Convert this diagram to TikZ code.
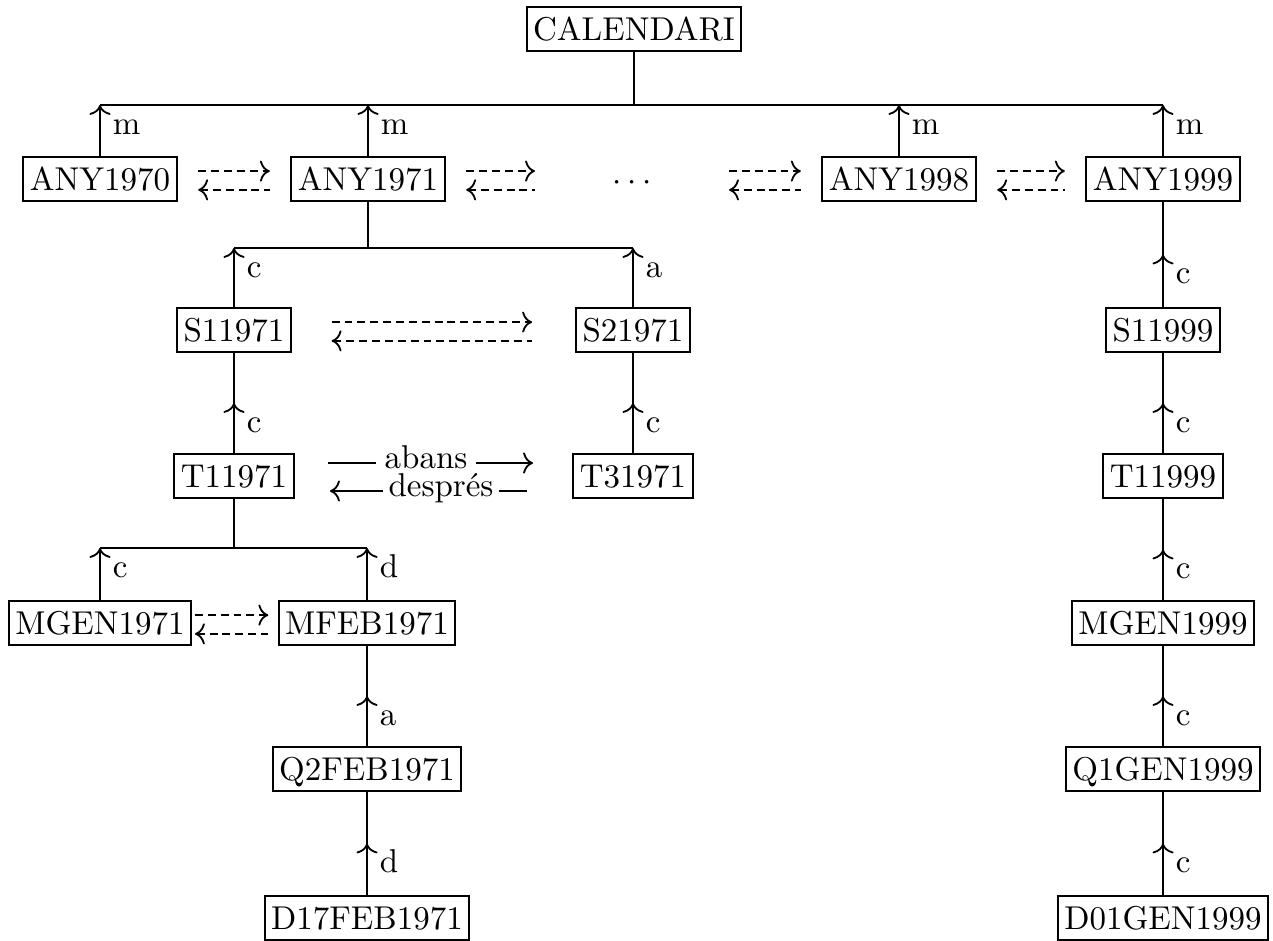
\documentclass[tikz,border=0pt]{standalone}
\usepackage{fontspec}
\usetikzlibrary{arrows.meta,decorations.markings}
\begin{document}
\begin{tikzpicture}[x=0.303pt,y=-0.303pt,
  line width=0.55pt,
  >={To[length=3pt,width=6.4pt]},
  box/.style={draw, line width=0.6pt, inner xsep=2pt, inner ysep=3.1pt,
    text height=6.9pt, text depth=0pt},
  lbl/.style={anchor=base west, inner sep=0pt, xshift=3.6pt, yshift=-8.8pt},
  bar/.style={line width=0.8pt},
  midup/.style={postaction={decorate},
    decoration={markings, mark=at position 0.5 with {\arrow{>}}}},
  dashedarrow/.style={dash pattern=on 2.4pt off 1.5pt},
  legend/.style={anchor=base, inner ysep=0pt, text depth=0pt}
]
\useasboundingbox (0,0) rectangle (1273,941);

% calendar hierarchy
\node[box] (cal) at (634,29) {CALENDARI};

\node[box] (a70) at (100,179) {ANY1970};
\node[box] (a71) at (368,179) {ANY1971};
\node[box, draw=none, minimum width=45.8pt] (dots) at (632,179) {$\cdots$};
\node[box] (a98) at (899,179) {ANY1998};
\node[box] (a99) at (1163,179) {ANY1999};

\node[box] (s11) at (234,330) {S11971};
\node[box] (s21) at (633,330) {S21971};
\node[box] (s99) at (1163,330) {S11999};

\node[box] (t11) at (234,476) {T11971};
\node[box] (t31) at (633,476) {T31971};
\node[box] (t99) at (1163,476) {T11999};

\node[box] (mgen71) at (100,623) {MGEN1971};
\node[box] (mfeb71) at (367,623) {MFEB1971};
\node[box] (mgen99) at (1163,623) {MGEN1999};

\node[box] (q2) at (367,769) {Q2FEB1971};
\node[box] (q1) at (1163,769) {Q1GEN1999};

\node[box] (d17) at (367,918) {D17FEB1971};
\node[box] (d01) at (1163,918) {D01GEN1999};

% heights of the horizontal bars
\coordinate (r1) at (0,105);
\coordinate (r2) at (0,248);
\coordinate (r3) at (0,548);

% years under the calendar
\draw[bar] (a70 |- r1) -- (a99 |- r1);
\draw (cal) -- (cal |- r1);
\foreach \n in {a70,a71,a98,a99}
  \draw[->] (\n) -- node[lbl,pos=1] {m} (\n |- r1);

% semesters of 1971
\draw[bar] (s11 |- r2) -- (s21 |- r2);
\draw (a71) -- (a71 |- r2);
\draw[->] (s11) -- node[lbl,pos=1] {c} (s11 |- r2);
\draw[->] (s21) -- node[lbl,pos=1] {a} (s21 |- r2);

% terms
\draw[midup] (t11) -- node[lbl] {c} (s11);
\draw[midup] (t31) -- node[lbl] {c} (s21);

% months of T11971
\draw[bar] (mgen71 |- r3) -- (mfeb71 |- r3);
\draw (t11) -- (t11 |- r3);
\draw[->] (mgen71) -- node[lbl,pos=1] {c} (mgen71 |- r3);
\draw[->] (mfeb71) -- node[lbl,pos=1] {d} (mfeb71 |- r3);

% fortnight and day of February 1971
\draw[midup] (q2) -- node[lbl] {a} (mfeb71);
\draw[midup] (d17) -- node[lbl] {d} (q2);

% chain of 1999
\draw[midup] (s99) -- node[lbl] {c} (a99);
\draw[midup] (t99) -- node[lbl] {c} (s99);
\draw[midup] (mgen99) -- node[lbl] {c} (t99);
\draw[midup] (q1) -- node[lbl] {c} (mgen99);
\draw[midup] (d01) -- node[lbl] {c} (q1);

% before / after links between siblings
\foreach \l/\r in {a70/a71,a71/dots,dots/a98,a98/a99}{
  \draw[dashedarrow,->,shorten <=6.2pt,shorten >=6.2pt]
    ([yshift=2.4pt]\l.east) -- ([yshift=2.4pt]\r.west);
  \draw[dashedarrow,<-,shorten <=6.2pt,shorten >=6.2pt]
    ([yshift=-3.3pt]\l.east) -- ([yshift=-3.3pt]\r.west);
}
\draw[dashedarrow,->,shorten <=12pt,shorten >=13pt]
  ([yshift=2.4pt]s11.east) -- ([yshift=2.4pt]s21.west);
\draw[dashedarrow,<-,shorten <=12pt,shorten >=13pt]
  ([yshift=-3.3pt]s11.east) -- ([yshift=-3.3pt]s21.west);
\draw[dashedarrow,->,shorten <=0.8pt,shorten >=2.8pt]
  ([yshift=2.4pt]mgen71.east) -- ([yshift=2.4pt]mfeb71.west);
\draw[dashedarrow,<-,shorten <=0.8pt,shorten >=2.8pt]
  ([yshift=-3.3pt]mgen71.east) -- ([yshift=-3.3pt]mfeb71.west);

% labelled relations between T11971 and T31971
\coordinate (ab1) at (328,463);
\coordinate (ab2) at (533,463);
\coordinate (de1) at (330,491);
\coordinate (de2) at (527,491);
\node[legend, inner xsep=2.4pt] (abans) at (426,469) {abans};
\node[legend, inner xsep=1.5pt] (despres) at (441,497) {després};
\draw (ab1) -- (ab1 -| abans.west);
\draw[->] (ab1 -| abans.east) -- (ab2);
\draw[<-] (de1) -- (de1 -| despres.west);
\draw (de1 -| despres.east) -- (de2);
\end{tikzpicture}
\end{document}
